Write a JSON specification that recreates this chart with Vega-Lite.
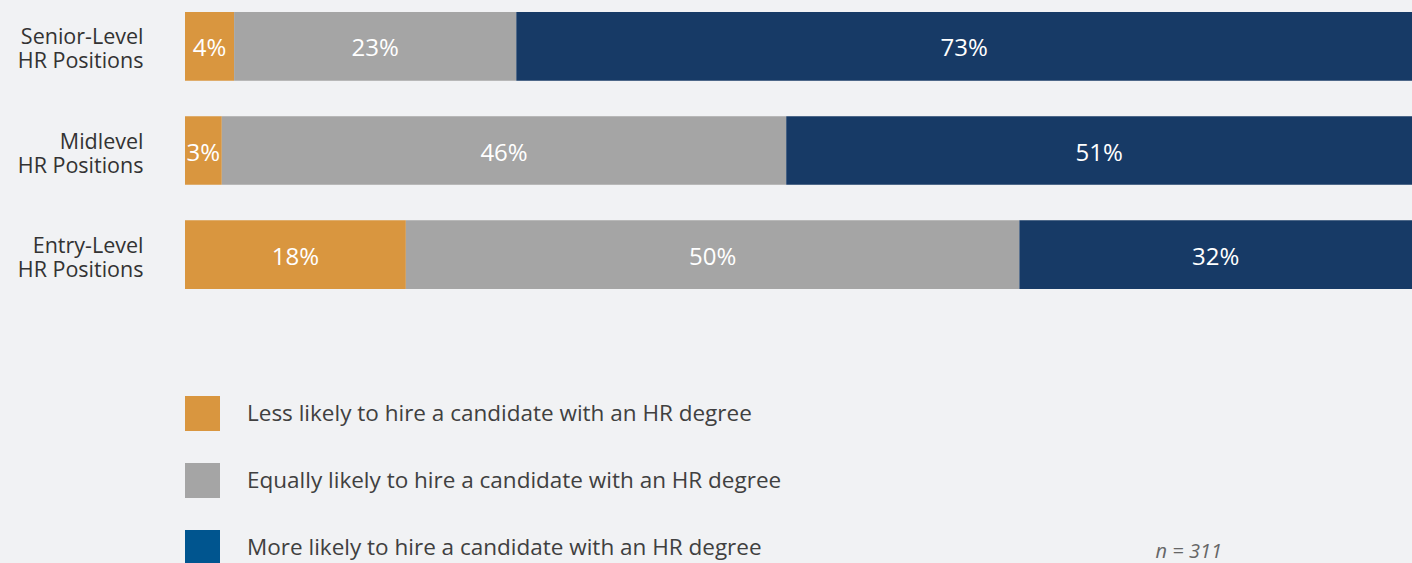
{
  "$schema": "https://vega.github.io/schema/vega-lite/v6.json",
  "width": 1227,
  "height": 301,
  "autosize": {"type": "none"},
  "padding": {"left": 185, "top": 0, "right": 0, "bottom": 262},
  "background": "#f1f2f4",
  "config": {"view": {"stroke": null}, "font": "Open Sans"},
  "title": {
    "text": "n = 311",
    "orient": "top",
    "anchor": "end",
    "frame": "group",
    "fontStyle": "italic",
    "fontWeight": "normal",
    "fontSize": 20,
    "color": "#666666",
    "font": "Open Sans",
    "baseline": "alphabetic",
    "offset": -578,
    "dx": -190
  },
  "data": {
    "values": [
      {"level": "Senior-Level HR Positions", "resp": "Less likely to hire a candidate with an HR degree", "k": 1, "pct": 0.04},
      {"level": "Senior-Level HR Positions", "resp": "Equally likely to hire a candidate with an HR degree", "k": 2, "pct": 0.23},
      {"level": "Senior-Level HR Positions", "resp": "More likely to hire a candidate with an HR degree", "k": 3, "pct": 0.73},
      {"level": "Midlevel HR Positions", "resp": "Less likely to hire a candidate with an HR degree", "k": 1, "pct": 0.03},
      {"level": "Midlevel HR Positions", "resp": "Equally likely to hire a candidate with an HR degree", "k": 2, "pct": 0.46},
      {"level": "Midlevel HR Positions", "resp": "More likely to hire a candidate with an HR degree", "k": 3, "pct": 0.51},
      {"level": "Entry-Level HR Positions", "resp": "Less likely to hire a candidate with an HR degree", "k": 1, "pct": 0.18},
      {"level": "Entry-Level HR Positions", "resp": "Equally likely to hire a candidate with an HR degree", "k": 2, "pct": 0.50},
      {"level": "Entry-Level HR Positions", "resp": "More likely to hire a candidate with an HR degree", "k": 3, "pct": 0.32}
    ]
  },
  "encoding": {
    "y": {
      "field": "level",
      "type": "nominal",
      "sort": ["Senior-Level HR Positions", "Midlevel HR Positions", "Entry-Level HR Positions"],
      "scale": {"paddingInner": 0.34, "paddingOuter": 0.115},
      "axis": {
        "title": null,
        "domain": false,
        "ticks": false,
        "labelFontSize": 21.5,
        "labelColor": "#333333",
        "labelFont": "Open Sans",
        "labelPadding": 42,
        "labelLineHeight": 24,
        "labelOffset": -8,
        "labelExpr": "[replace(datum.label, ' HR Positions', ''), 'HR Positions']"
      }
    }
  },
  "layer": [
    {
      "mark": {"type": "bar"},
      "encoding": {
        "x": {"field": "pct", "type": "quantitative", "stack": "zero", "scale": {"domain": [0, 1]}, "axis": null},
        "order": {"field": "k", "type": "quantitative"},
        "color": {
          "field": "resp",
          "type": "nominal",
          "sort": {"field": "k"},
          "scale": {"range": ["#d9963f", "#a5a5a5", "#173a66"]},
          "legend": null
        }
      }
    },
    {
      "mark": {"type": "bar", "opacity": 0},
      "encoding": {
        "x": {"field": "pct", "type": "quantitative", "stack": "zero"},
        "order": {"field": "k", "type": "quantitative"},
        "fill": {
          "field": "resp",
          "type": "nominal",
          "scale": {
            "domain": [
              "Less likely to hire a candidate with an HR degree",
              "Equally likely to hire a candidate with an HR degree",
              "More likely to hire a candidate with an HR degree"
            ],
            "range": ["#d9963f", "#a5a5a5", "#00558f"]
          },
          "legend": {
            "orient": "none",
            "legendX": 0,
            "legendY": 396,
            "direction": "vertical",
            "title": null,
            "padding": 0,
            "symbolType": "square",
            "symbolSize": 1225,
            "symbolStrokeWidth": 0,
            "symbolOpacity": 1,
            "labelFontSize": 22.5,
            "labelFont": "Open Sans",
            "labelColor": "#404040",
            "labelOffset": 27,
            "labelLimit": 0,
            "rowPadding": 32
          }
        }
      }
    },
    {
      "transform": [
        {"stack": "pct", "groupby": ["level"], "sort": [{"field": "k"}], "as": ["x0", "x1"]},
        {"calculate": "(datum.x0 + datum.x1) / 2", "as": "mid"}
      ],
      "mark": {"type": "text", "color": "#ffffff", "fontSize": 24, "font": "Open Sans", "baseline": "middle", "align": "center", "dy": 3},
      "encoding": {
        "x": {"field": "mid", "type": "quantitative"},
        "text": {"field": "pct", "type": "quantitative", "format": ".0%"}
      }
    }
  ]
}
